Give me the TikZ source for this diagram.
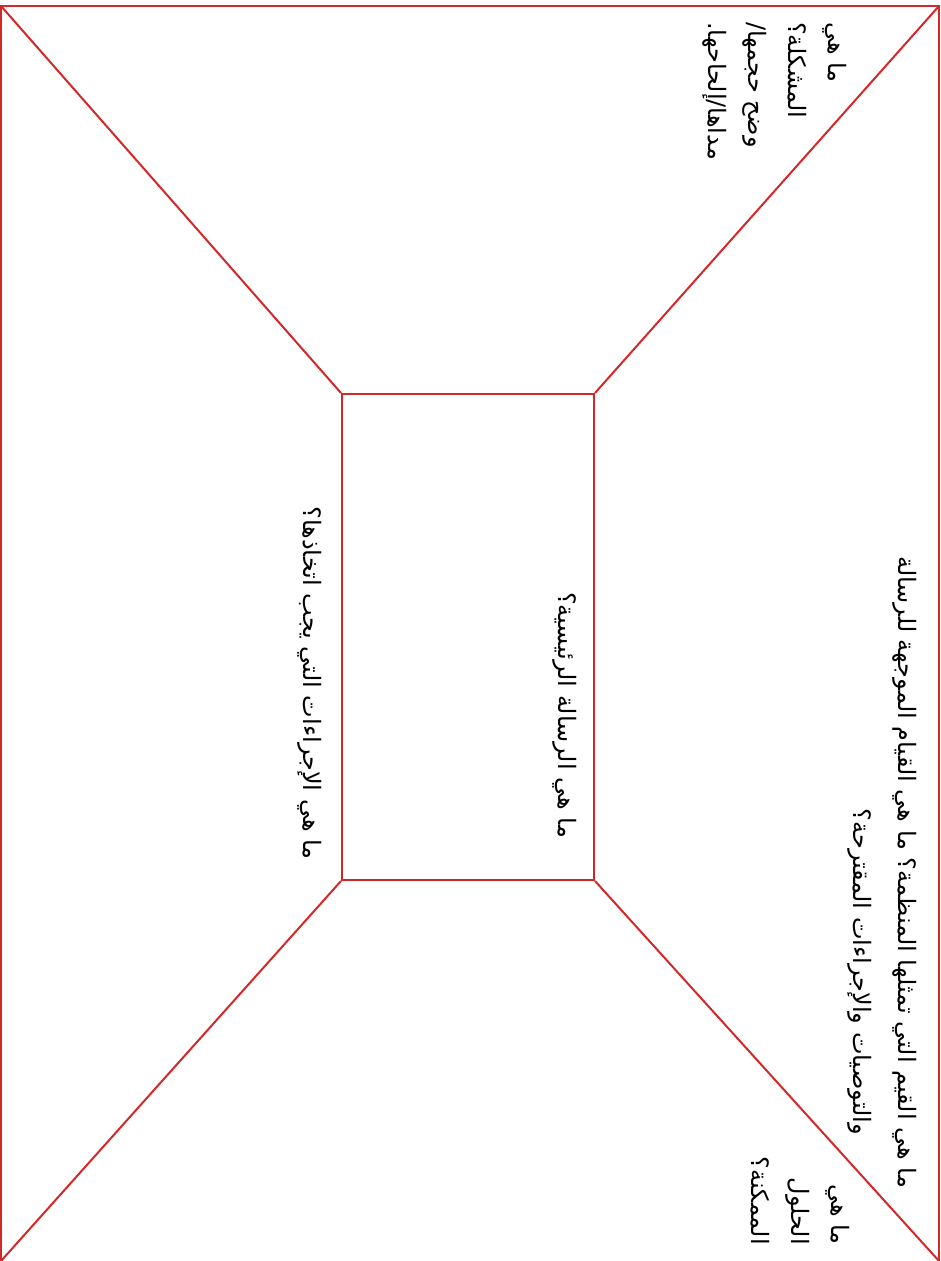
\documentclass[tikz,border=0pt]{standalone}
\usepackage{fontspec}
\newfontfamily\arabicfont[Script=Arabic]{DejaVu Sans}
\TeXXeTstate=1
\definecolor{frame}{RGB}{212,40,40}
\tikzset{
  edge/.style={draw=frame, line width=2pt},
  label/.style={font=\arabicfont\fontsize{24}{40}\selectfont, text=black, rotate=-90, inner sep=0pt},
}
\begin{document}
\begin{tikzpicture}[x=1pt,y=-1pt]
\useasboundingbox (0,0) rectangle (941,1261);
\clip (0,0) rectangle (941,1261);
\coordinate (tl) at (1,6);
\coordinate (tr) at (939,6);
\coordinate (bl) at (1,1261);
\coordinate (br) at (939,1261);
\draw[edge] (1,1266) -- (tl) -- (tr) -- (939,1266);
\node[edge, minimum width=252pt, minimum height=486pt, inner sep=0pt] (inner) at (468,637) {};
\draw[edge] (tl) -- (inner.north west);
\draw[edge] (tr) -- (inner.north east);
\draw[edge] (bl) -- (inner.south west);
\draw[edge] (br) -- (inner.south east);
\node[label, anchor=east] (values1) at (905,1188) {\beginR ما هي القيم التي تمثلها المنظمة؟ ما هي القيام الموجهة للرسالة\endR};
\node[label, anchor=east] (values2) at (860,1135) {\beginR والتوصيات والإجراءات المقترحة؟\endR};
\node[label, anchor=west, align=left] (problem) at (775,22) {\beginR ما هي\endR\\ \beginR المشكلة؟\endR\\ \beginR وضح حجمها/\endR\\ \beginR مداها/إلحاحها.\endR};
\node[label, anchor=east, align=right] (solutions) at (800,1245) {\beginR ما هي\endR\\ \beginR الحلول\endR\\ \beginR الممكنة؟\endR};
\node[label] (message) at (565,715) {\beginR ما هي الرسالة الرئيسية؟\endR};
\node[label] (actions) at (310,683) {\beginR ما هي الإجراءات التي يجب اتخاذها؟\endR};
\end{tikzpicture}
\end{document}
